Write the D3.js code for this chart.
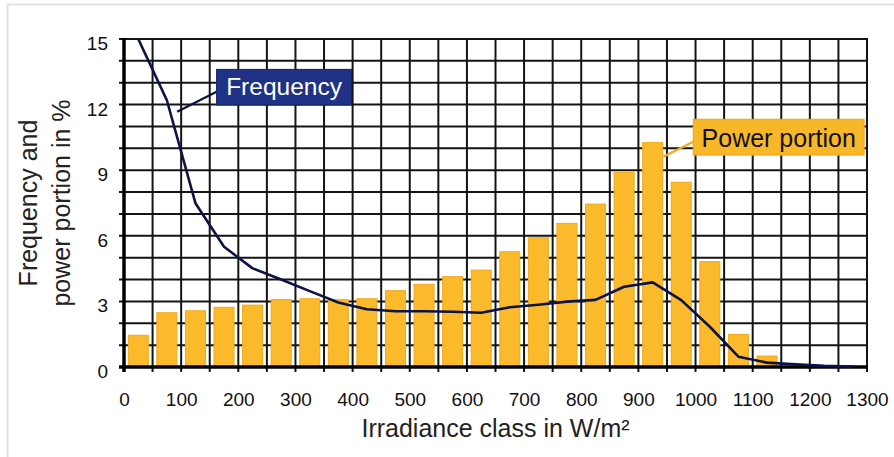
<!DOCTYPE html>
<html>
<head>
<meta charset="utf-8">
<script src="https://cdn.jsdelivr.net/npm/d3@7"></script>
<style>
  html, body { margin: 0; padding: 0; background: #fff; }
  svg { display: block; font-family: "Liberation Sans", Arial, Helvetica, sans-serif; }
</style>
</head>
<body>
<svg id="chart" width="894" height="457"></svg>
<script>
// ---- data ----
const classes = [25, 75, 125, 175, 225, 275, 325, 375, 425, 475, 525, 575, 625,
                 675, 725, 775, 825, 875, 925, 975, 1025, 1075, 1125, 1175, 1225, 1275];
const powerPortion = [1.45, 2.48, 2.57, 2.73, 2.83, 3.09, 3.12, 3.08, 3.12, 3.49, 3.78, 4.13, 4.43,
                      5.27, 5.91, 6.57, 7.45, 8.9, 10.26, 8.45, 4.82, 1.49, 0.5, 0.04, 0, 0];
const frequency = [15, 12.2, 7.49, 5.5, 4.51, 4.0, 3.47, 2.95, 2.64, 2.55, 2.55, 2.53, 2.48,
                   2.73, 2.85, 2.99, 3.07, 3.67, 3.87, 3.06, 1.84, 0.47, 0.2, 0.12, 0.05, 0.02];
const xTickLabels = [0, 100, 200, 300, 400, 500, 600, 700, 800, 900, 1000, 1100, 1200, 1300];
const yTickLabels = [0, 3, 6, 9, 12, 15];
const xTitle = "Irradiance class in W/m²";
const yTitle = ["Frequency and", "power portion in %"];
const freqLabel = "Frequency";
const powerLabel = "Power portion";

// ---- layout ----
const svg = d3.select("#chart");
const L = 124, R = 867, T = 39, B = 367;
const x = d3.scaleLinear().domain([0, 1300]).range([L, R]);
const y = d3.scaleLinear().domain([0, 15]).range([B, T]);
const band = d3.scaleBand().domain(classes).range([L, R]).paddingInner(0.3).paddingOuter(0.15);

const barColor = "#fbba2b", barEdge = "#f1a918";
const navy = "#0c1245", boxNavy = "#1f3286";

// frame
svg.append("rect").attr("x", 7.5).attr("y", 4.5).attr("width", 900).attr("height", 470)
  .attr("fill", "none").attr("stroke", "#e4e4e4").attr("stroke-width", 2);

// grid
const grid = svg.append("g").attr("stroke", "#141414").attr("stroke-width", 2);
grid.selectAll("line.v").data(d3.range(0, 1301, 50)).join("line")
  .attr("class", "v")
  .attr("x1", d => x(d)).attr("x2", d => x(d))
  .attr("y1", T).attr("y2", B + 5);
grid.selectAll("line.h").data(d3.range(0, 16, 1)).join("line")
  .attr("class", "h")
  .attr("x1", L - 5).attr("x2", R + 1)
  .attr("y1", d => y(d)).attr("y2", d => y(d));

// bars
svg.append("g").selectAll("rect").data(classes).join("rect")
  .attr("x", d => band(d))
  .attr("width", band.bandwidth())
  .attr("y", (d, i) => y(powerPortion[i]))
  .attr("height", (d, i) => B - y(powerPortion[i]))
  .attr("fill", barColor)
  .attr("stroke", barEdge).attr("stroke-width", 1);

// axes lines (thicker)
svg.append("line").attr("x1", L).attr("x2", L).attr("y1", T - 1).attr("y2", B + 5)
  .attr("stroke", "#000").attr("stroke-width", 3.5);
svg.append("line").attr("x1", L - 5).attr("x2", R + 1).attr("y1", B).attr("y2", B)
  .attr("stroke", "#000").attr("stroke-width", 3.5);

// frequency line
const line = d3.line().x((d, i) => x(classes[i])).y(d => y(d));
svg.append("path").datum(frequency)
  .attr("d", line).attr("fill", "none")
  .attr("stroke", navy).attr("stroke-width", 2.6).attr("stroke-linejoin", "round");

// tick labels
const xAxis = svg.append("g").attr("transform", `translate(0,${B})`)
  .call(d3.axisBottom(x).tickValues(xTickLabels).tickSize(0).tickPadding(26).tickFormat(d3.format("d")));
xAxis.select(".domain").remove();
xAxis.selectAll("text").attr("font-size", 19).attr("fill", "#111").attr("font-family", null);

const yAxis = svg.append("g").attr("transform", `translate(${L},0)`)
  .call(d3.axisLeft(y).tickValues(yTickLabels).tickSize(0).tickPadding(16).tickFormat(d3.format("d")));
yAxis.select(".domain").remove();
yAxis.selectAll("text").attr("font-size", 19).attr("fill", "#111").attr("dy", "0.55em").attr("font-family", null);

// titles
svg.append("text").attr("x", (L + R) / 2).attr("y", 437)
  .attr("text-anchor", "middle").attr("font-size", 25).attr("fill", "#222").text(xTitle);
const yt = svg.append("text")
  .attr("transform", `translate(37,${(T + B) / 2}) rotate(-90)`)
  .attr("text-anchor", "middle").attr("font-size", 25).attr("fill", "#222");
yt.append("tspan").attr("x", 0).attr("y", 0).text(yTitle[0]);
yt.append("tspan").attr("x", 0).attr("y", 33).text(yTitle[1]);

// annotation: Frequency
svg.append("line")
  .attr("x1", x(93)).attr("y1", y(11.67)).attr("x2", x(162)).attr("y2", y(12.59))
  .attr("stroke", navy).attr("stroke-width", 2.2);
svg.append("rect")
  .attr("x", x(162)).attr("y", y(13.61))
  .attr("width", x(398) - x(162)).attr("height", y(11.98) - y(13.61))
  .attr("fill", boxNavy).attr("stroke", "#15245f").attr("stroke-width", 1);
svg.append("text").attr("x", (x(162) + x(398)) / 2).attr("y", y(11.98) - 10)
  .attr("text-anchor", "middle").attr("font-size", 24.5).attr("fill", "#fff").text(freqLabel);

// annotation: Power portion
svg.append("line")
  .attr("x1", x(943.5)).attr("y1", y(9.62)).attr("x2", x(996)).attr("y2", y(10.3))
  .attr("stroke", "#f2ad20").attr("stroke-width", 2.2);
svg.append("rect")
  .attr("x", x(996)).attr("y", y(11.33))
  .attr("width", x(1295) - x(996)).attr("height", y(9.69) - y(11.33))
  .attr("fill", "#f8b629").attr("stroke", "#eda51b").attr("stroke-width", 1);
svg.append("text").attr("x", (x(996) + x(1295)) / 2).attr("y", y(9.69) - 8.5)
  .attr("text-anchor", "middle").attr("font-size", 25).attr("fill", "#111").text(powerLabel);
</script>
</body>
</html>
